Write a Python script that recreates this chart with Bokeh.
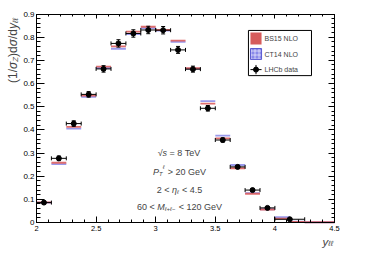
import math
from bokeh.plotting import figure
from bokeh.models import Label, LinearAxis, SingleIntervalTicker, NumeralTickFormatter, ColumnDataSource
from bokeh.embed import file_html
from bokeh.resources import INLINE

# ---------------- data ----------------
data_edges = [2.0, 2.125, 2.25, 2.375, 2.5, 2.625, 2.75, 2.875, 3.0, 3.125,
              3.25, 3.375, 3.5, 3.625, 3.75, 3.875, 4.0, 4.25]
lhcb = [0.086, 0.277, 0.427, 0.553, 0.663, 0.773, 0.816, 0.831, 0.830, 0.745,
        0.662, 0.493, 0.356, 0.240, 0.140, 0.063, 0.014]
lhcb_err = [0.006, 0.010, 0.012, 0.012, 0.014, 0.016, 0.016, 0.016, 0.016, 0.015,
            0.013, 0.012, 0.009, 0.007, 0.005, 0.003, 0.002]

theory_edges = [2.0, 2.125, 2.25, 2.375, 2.5, 2.625, 2.75, 2.875, 3.0, 3.125,
                3.25, 3.375, 3.5, 3.625, 3.75, 3.875, 4.0, 4.125, 4.25, 4.5]
bs15 = [0.087, 0.258, 0.413, 0.548, 0.673, 0.760, 0.824, 0.845, 0.831, 0.785,
        0.666, 0.513, 0.363, 0.234, 0.124, 0.056, 0.017, 0.003, 0.001]
ct14 = [0.086, 0.252, 0.405, 0.542, 0.667, 0.750, 0.813, 0.839, 0.828, 0.780,
        0.664, 0.524, 0.375, 0.248, 0.127, 0.057, 0.023, 0.004, 0.001]

x_min, x_max = 2.0, 4.5
y_min, y_max = 0.0, 0.9
x_ticks_major = 0.5
y_ticks_major = 0.1
legend_labels = ["BS15 NLO", "CT14 NLO", "LHCb data"]

FONT = "Liberation Sans"
RED = "#dc5e5e"
BLUE = "#8080e6"

# canvas 356x249; axes box from canvas x 36..334, y 13.5..222
W_PX, H_PX = 356, 249
sx = 298 / (x_max - x_min)
sy = 208.5 / (y_max - y_min)
xr = (x_min - 36 / sx, x_max + (W_PX - 334) / sx)
yr = (y_min - (H_PX - 222) / sy, y_max + 13.5 / sy)

p = figure(width=W_PX, height=H_PX, x_range=xr, y_range=yr,
           output_backend="svg", toolbar_location=None, min_border=0)
p.grid.visible = False
p.outline_line_color = None
p.background_fill_color = "white"
p.border_fill_color = "white"

def style_axis(ax, ticker, maj, mnr, loc, bounds, labels=True, fs="7.5px"):
    ax.ticker = ticker
    ax.fixed_location = loc
    ax.bounds = bounds
    ax.major_tick_in = maj
    ax.major_tick_out = 0
    ax.minor_tick_in = mnr
    ax.minor_tick_out = 0
    ax.axis_line_color = "black"
    ax.major_tick_line_color = "black"
    ax.minor_tick_line_color = "black"
    ax.formatter = NumeralTickFormatter(format="0.[0]")
    ax.major_label_text_font = FONT
    ax.major_label_text_font_size = fs
    ax.major_label_text_color = "black" if labels else None
    ax.axis_label = None

style_axis(p.xaxis[0], SingleIntervalTicker(interval=x_ticks_major, num_minor_ticks=5), 6, 3,
           y_min, (x_min, x_max), fs="7.5px")
p.xaxis[0].major_label_standoff = 3
style_axis(p.yaxis[0], SingleIntervalTicker(interval=y_ticks_major, num_minor_ticks=5), 8, 4,
           x_min, (y_min, y_max), fs="8px")
p.yaxis[0].major_label_standoff = 2

top = LinearAxis()
style_axis(top, SingleIntervalTicker(interval=x_ticks_major, num_minor_ticks=5), 4, 2,
           y_max, (x_min, x_max), labels=False)
p.add_layout(top, "above")
right = LinearAxis()
style_axis(right, SingleIntervalTicker(interval=y_ticks_major, num_minor_ticks=5), 6, 3,
           x_max, (y_min, y_max), labels=False)
p.add_layout(right, "right")

# ---------------- theory bands ----------------
t_lo = theory_edges[:-1]
t_hi = theory_edges[1:]
h = 0.004
p.quad(left=t_lo, right=t_hi, bottom=[v - h for v in ct14], top=[v + h for v in ct14],
       fill_color=BLUE, fill_alpha=0.8, line_color=None)
p.quad(left=t_lo, right=t_hi, bottom=[v - h for v in bs15], top=[v + h for v in bs15],
       fill_color=RED, fill_alpha=0.9, line_color=None)

# ---------------- data points ----------------
d_lo = data_edges[:-1]
d_hi = data_edges[1:]
d_x = [(a + b) / 2 for a, b in zip(d_lo, d_hi)]
src = ColumnDataSource(dict(x=d_x, y=lhcb, lo=d_lo, hi=d_hi,
                            ylo=[v - e for v, e in zip(lhcb, lhcb_err)],
                            yhi=[v + e for v, e in zip(lhcb, lhcb_err)]))
p.segment(x0="lo", x1="hi", y0="y", y1="y", source=src, line_color="black", line_width=1)
p.segment(x0="x", x1="x", y0="ylo", y1="yhi", source=src, line_color="black", line_width=1)
p.scatter(x="lo", y="y", source=src, marker="dash", angle=math.pi / 2, size=4, line_color="black")
p.scatter(x="hi", y="y", source=src, marker="dash", angle=math.pi / 2, size=4, line_color="black")
p.scatter(x="x", y="ylo", source=src, marker="dash", size=4, line_color="black")
p.scatter(x="x", y="yhi", source=src, marker="dash", size=4, line_color="black")
p.scatter(x="x", y="y", source=src, marker="circle", size=5, fill_color="black", line_color="black")

# ---------------- legend (manual) ----------------
p.quad(left=[3.778], right=[4.307], bottom=[0.634], top=[0.829],
       fill_color="white", line_color="black", line_width=1)
p.quad(left=[3.795], right=[3.888], bottom=[0.768], top=[0.820],
       fill_color="#d65c5c", line_color=None)
p.quad(left=[3.795], right=[3.888], bottom=[0.704], top=[0.751],
       fill_color="#8a8aea", line_color="#5a5ad0", hatch_pattern="+", hatch_color="white",
       hatch_scale=4, hatch_alpha=0.6)
p.segment(x0=[3.795], x1=[3.888], y0=[0.660], y1=[0.660], line_color="black")
p.segment(x0=[3.8415], x1=[3.8415], y0=[0.640], y1=[0.680], line_color="black")
p.scatter(x=[3.8415], y=[0.660], marker="circle", size=5, fill_color="black", line_color="black")
for lab, yy in zip(legend_labels, [0.794, 0.727, 0.660]):
    p.add_layout(Label(x=3.913, y=yy, text=lab, text_font=FONT, text_font_size="7px",
                       text_baseline="middle", text_align="left"))

# ---------------- composite texts ----------------
W = {' ': 278, '(': 333, ')': 333, '/': 278, '.': 278, '=': 584, '<': 584, '>': 584,
     '+': 584, '-': 584, 'T': 611, 'e': 556, 'V': 667, 'G': 778, 'P': 667, 'M': 833,
     's': 500, 'd': 556, 'y': 500, '√': 549, 'σ': 602, 'η': 556, 'ℓ': 420, 'Z': 611}

def width(t):
    return sum(W.get(c, 556) for c in t) / 1000.0

def run(x, y, pieces, size, anchor="left", angle=0.0):
    total = sum(width(t) * size * s for t, s, _, _ in pieces)
    pos = {"left": 0.0, "center": -total / 2, "right": -total}[anchor]
    for t, s, dy, it in pieces:
        fs = size * s
        lead = len(t) - len(t.lstrip(" "))
        txt = t.strip(" ")
        o = pos + width(" " * lead) * fs
        if angle == 0:
            xo, yo = o, dy * size
        else:
            xo, yo = -dy * size, o
        if txt:
            p.add_layout(Label(x=x, y=y, x_offset=xo, y_offset=yo, text=txt,
                               text_font=FONT, text_font_size=f"{fs:.2f}px",
                               text_font_style="italic" if it else "normal",
                               angle=angle, text_baseline="alphabetic", text_align="left"))
        pos += width(t) * fs

def dx(px):
    return x_min + (px - 44) / sx

def dy_(py):
    return (230 - py) / sy

# y-axis title
run(dx(20), dy_(24), [("(1/", 1, 0, False), ("σ", 1, 0, True), ("Z", 0.65, -0.25, True),
                      (")d", 1, 0, False), ("σ", 1, 0, True), ("/d", 1, 0, False),
                      ("y", 1, 0, True), ("ℓℓ", 0.65, -0.25, True)],
    12, anchor="right", angle=math.pi / 2)
# x-axis title
run(dx(342), dy_(249), [("y", 1, 0, True), ("ℓℓ", 0.65, -0.2, True)], 11.5, anchor="right")

cx = dx(187)
run(cx, dy_(160), [("√", 1, 0, False), ("s", 1, 0, True), (" = 8 TeV", 1, 0, False)], 9, anchor="center")
run(cx, dy_(179), [("P", 1, 0, True), ("T", 0.65, -0.3, True), ("ℓ", 0.65, 0.45, True),
                   (" > 20 GeV", 1, 0, False)], 9, anchor="center")
run(cx, dy_(197), [("2 < ", 1, 0, False), ("η", 1, 0, True), ("ℓ", 0.65, -0.3, True),
                   (" < 4.5", 1, 0, False)], 9, anchor="center")
run(cx, dy_(214), [("60 < ", 1, 0, False), ("M", 1, 0, True), ("ℓ+ℓ−", 0.65, -0.3, True),
                   (" < 120 GeV", 1, 0, False)], 9, anchor="center")

open("out.html", "w").write(file_html(p, INLINE))
